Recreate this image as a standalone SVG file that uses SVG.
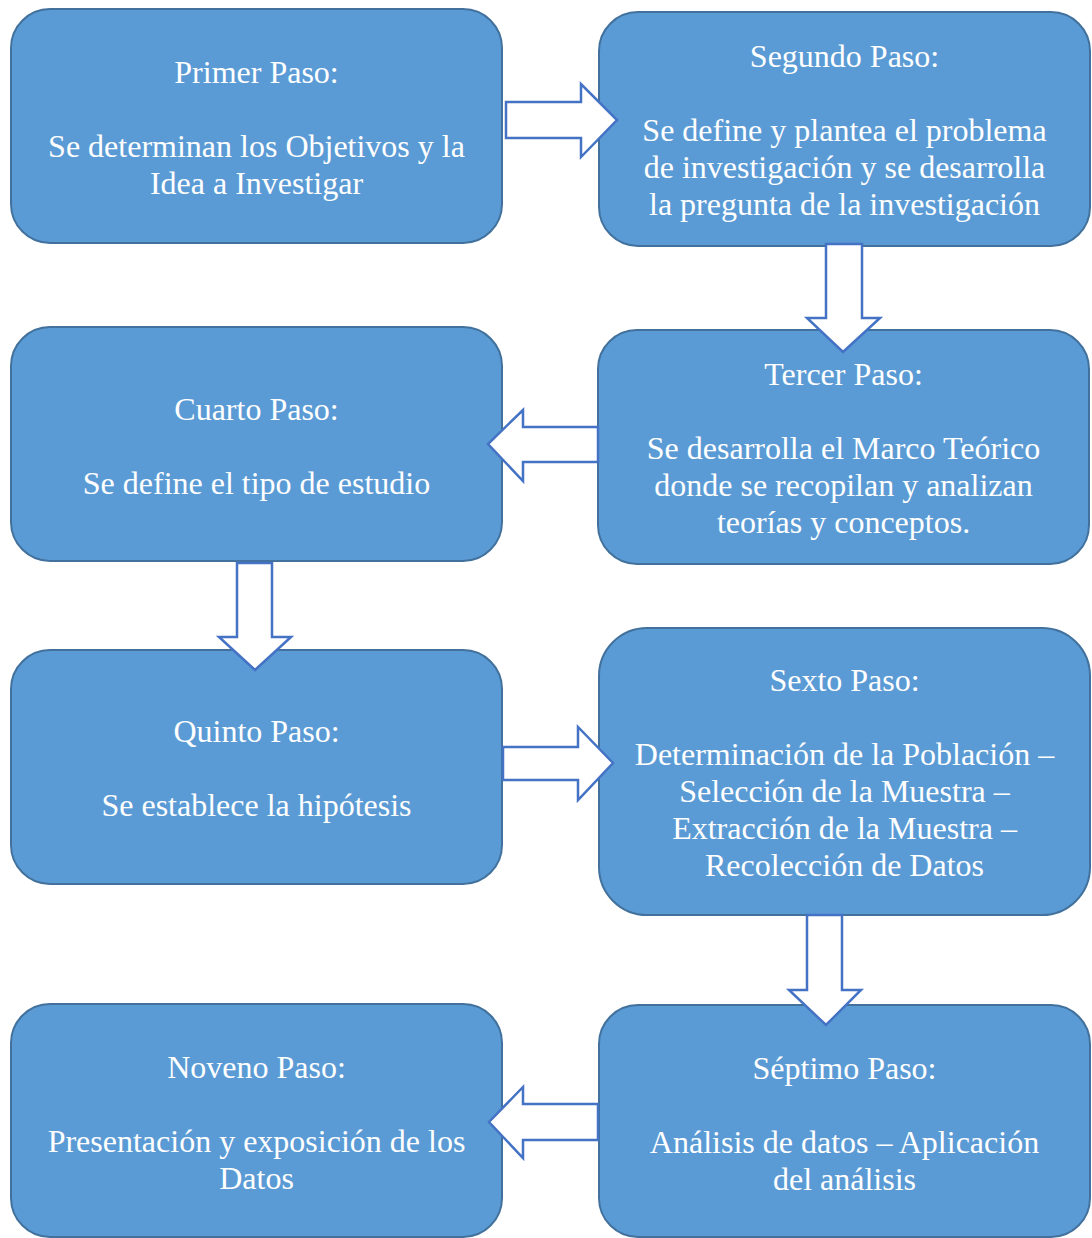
<svg xmlns="http://www.w3.org/2000/svg" width="1092" height="1238" viewBox="0 0 1092 1238">
<style>
.box{fill:#5B9BD5;stroke:#41719C;stroke-width:2}
.arr{fill:#FFFFFF;stroke:#4472C4;stroke-width:2.5;stroke-linejoin:miter}
text{font-family:"Liberation Serif","Times New Roman",serif;font-size:32px;fill:#FFFFFF;text-anchor:middle}
</style>
<rect width="1092" height="1238" fill="#FFFFFF"/>
<g id="paso1">
<rect class="box" x="11" y="9" width="491" height="234" rx="39"/>
<text x="256.5" y="83">Primer Paso:</text>
<text x="256.5" y="157">Se determinan los Objetivos y la</text>
<text x="256.5" y="194">Idea a Investigar</text>
</g>
<g id="paso2">
<rect class="box" x="599" y="12" width="491" height="234" rx="39"/>
<text x="844.5" y="67">Segundo Paso:</text>
<text x="844.5" y="141">Se define y plantea el problema</text>
<text x="844.5" y="178">de investigación y se desarrolla</text>
<text x="844.5" y="215">la pregunta de la investigación</text>
</g>
<g id="paso3">
<rect class="box" x="598" y="330" width="491" height="234" rx="39"/>
<text x="843.5" y="385">Tercer Paso:</text>
<text x="843.5" y="459">Se desarrolla el Marco Teórico</text>
<text x="843.5" y="496">donde se recopilan y analizan</text>
<text x="843.5" y="533">teorías y conceptos.</text>
</g>
<g id="paso4">
<rect class="box" x="11" y="327" width="491" height="234" rx="39"/>
<text x="256.5" y="420">Cuarto Paso:</text>
<text x="256.5" y="494">Se define el tipo de estudio</text>
</g>
<g id="paso5">
<rect class="box" x="11" y="650" width="491" height="234" rx="39"/>
<text x="256.5" y="742">Quinto Paso:</text>
<text x="256.5" y="816">Se establece la hipótesis</text>
</g>
<g id="paso6">
<rect class="box" x="599" y="628" width="491" height="287" rx="48"/>
<text x="844.5" y="691">Sexto Paso:</text>
<text x="844.5" y="765">Determinación de la Población –</text>
<text x="844.5" y="802">Selección de la Muestra –</text>
<text x="844.5" y="839">Extracción de la Muestra –</text>
<text x="844.5" y="876">Recolección de Datos</text>
</g>
<g id="paso7">
<rect class="box" x="599" y="1005" width="491" height="232" rx="39"/>
<text x="844.5" y="1079">Séptimo Paso:</text>
<text x="844.5" y="1153">Análisis de datos – Aplicación</text>
<text x="844.5" y="1190">del análisis</text>
</g>
<g id="paso9">
<rect class="box" x="11" y="1004" width="491" height="233" rx="39"/>
<text x="256.5" y="1078">Noveno Paso:</text>
<text x="256.5" y="1152">Presentación y exposición de los</text>
<text x="256.5" y="1189">Datos</text>
</g>
<g id="connectors">
<polygon class="arr" points="506,102 581,102 581,84 617,120 581,157 581,138 506,138"/>
<polygon class="arr" points="826,244 862,244 862,318 880,318 843,352 807,318 826,318"/>
<polygon class="arr" points="598,427 523,427 523,410 488,444 523,481 523,462 598,462"/>
<polygon class="arr" points="237,563 272,563 272,637 291,637 255,670 219,637 237,637"/>
<polygon class="arr" points="503,747 578,747 578,727 613,763 578,800 578,780 503,780"/>
<polygon class="arr" points="807,915 842,915 842,990 861,990 826,1025 789,990 807,990"/>
<polygon class="arr" points="598,1104 523,1104 523,1087 489,1122 523,1158 523,1140 598,1140"/>
</g>
</svg>
